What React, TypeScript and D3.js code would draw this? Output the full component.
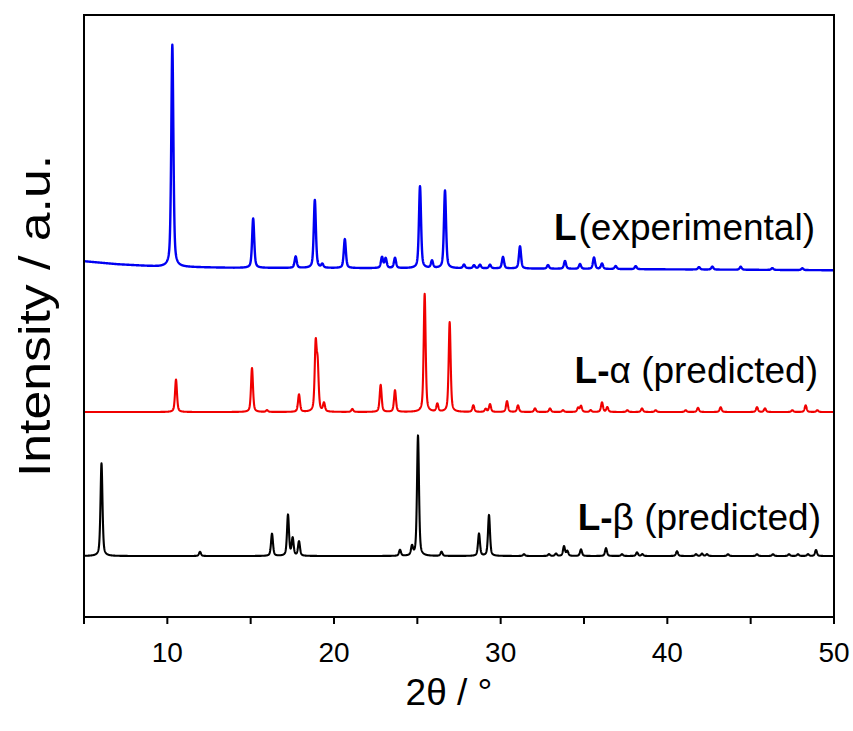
import React from "react";
import * as d3 from "d3";

const WIDTH = 853;
const HEIGHT = 731;
const PLOT = { left: 84, right: 834, top: 15, bottom: 617 };

// 2θ axis
const X_DOMAIN: [number, number] = [5, 50];
const X_TICKS = [5, 10, 15, 20, 25, 30, 35, 40, 45, 50];
const X_TICK_LABELS = [10, 20, 30, 40, 50];

// Experimental pattern of L: peak positions (2θ) and heights (a.u.)
const expTheta = [
  10.3, 15.15, 17.7, 18.85, 19.3, 20.65, 22.88, 23.1, 23.66, 25.16, 25.88, 26.66,
  27.8, 28.4, 28.76, 29.36, 30.14, 31.16, 32.84, 33.86, 34.76, 35.6, 36.08, 36.9,
  38.1, 41.9, 42.7, 44.4, 46.3, 48.1,
];
const expIntensity = [
  36.9, 8.2, 1.9, 11.3, 0.6, 4.8, 1.8, 1.6, 1.7, 13.6, 1.2, 12.9,
  0.6, 0.5, 0.6, 0.6, 1.9, 3.7, 0.6, 1.3, 0.8, 1.9, 0.9, 0.5,
  0.5, 0.4, 0.5, 0.5, 0.3, 0.3,
];
// slowly varying background under the experimental trace
const expBackgroundTheta = [5, 7, 9.5, 14, 30, 50];
const expBackgroundLevel = [59.1, 58.6, 58.2, 58.0, 57.9, 57.6];

// Predicted pattern of L-α
const alphaTheta = [
  10.52, 15.08, 15.98, 17.9, 18.9, 19.02, 19.4, 21.1, 22.8, 23.66, 25.44, 26.2,
  26.94, 28.36, 29.1, 29.36, 30.38, 31.04, 32.06, 32.96, 33.74, 34.65, 34.82, 35.4,
  36.08, 36.4, 37.6, 38.48, 39.3, 41.1, 41.84, 43.2, 45.38, 45.86, 47.5, 48.3, 49.0,
];
const alphaIntensity = [
  5.4, 7.3, 0.3, 2.9, 10.8, 7.1, 1.4, 0.5, 4.5, 3.6, 19.6, 1.3,
  14.9, 1.1, 0.5, 1.3, 1.8, 1.1, 0.6, 0.6, 0.3, 0.7, 1.0, 0.3,
  1.6, 0.8, 0.3, 0.6, 0.3, 0.3, 0.7, 0.8, 0.8, 0.6, 0.3, 1.1, 0.3,
];
const alphaOffset = 34.05;

// Predicted pattern of L-β
const betaTheta = [
  6.05, 11.96, 16.28, 17.24, 17.52, 17.9, 23.96, 24.68, 25.04, 26.45, 28.7, 29.3,
  31.4, 32.9, 33.32, 33.8, 34.0, 34.82, 36.32, 37.28, 38.18, 38.5, 40.58, 41.72,
  42.08, 42.38, 43.64, 45.38, 46.34, 47.3, 47.84, 48.44, 48.92,
];
const betaIntensity = [
  15.4, 0.7, 3.7, 6.8, 2.9, 2.4, 1.0, 1.5, 20.0, 0.7, 3.7, 6.8,
  0.3, 0.3, 0.4, 1.6, 0.8, 1.1, 1.3, 0.3, 0.6, 0.3, 0.8, 0.3,
  0.4, 0.3, 0.3, 0.3, 0.3, 0.3, 0.3, 0.3, 1.0,
];
const betaOffset = 10.13;

const SERIES = [
  { name: "L (experimental)", theta: expTheta, intensity: expIntensity, fwhm: 0.15, color: "#0000f2", width: 2.4 },
  { name: "L-α (predicted)", theta: alphaTheta, intensity: alphaIntensity, fwhm: 0.14, color: "#f00000", width: 2.1 },
  { name: "L-β (predicted)", theta: betaTheta, intensity: betaIntensity, fwhm: 0.14, color: "#000000", width: 2.1 },
];

const FONT = "'Liberation Sans', Arial, Helvetica, sans-serif";

// pseudo-Voigt line shape
function profile(x: number, x0: number, h: number, fwhm: number, eta = 0.5) {
  const u = (x - x0) / fwhm;
  return h * (eta / (1 + 4 * u * u) + (1 - eta) * Math.exp(-4 * Math.LN2 * u * u));
}

export default function App() {
  const x = d3.scaleLinear().domain(X_DOMAIN).range([PLOT.left, PLOT.right]);
  const y = d3.scaleLinear().domain([0, 100]).range([PLOT.bottom, PLOT.top]);
  const background = d3.scaleLinear().domain(expBackgroundTheta).range(expBackgroundLevel);
  const grid = d3.range(X_DOMAIN[0], X_DOMAIN[1] + 1e-9, 0.01);

  const baselines = [
    (t: number) => background(t),
    () => alphaOffset,
    () => betaOffset,
  ];

  const line = d3
    .line<[number, number]>()
    .x((d) => x(d[0]))
    .y((d) => y(d[1]));

  const paths = SERIES.map((s, i) => {
    const pts: [number, number][] = grid.map((t) => {
      let v = baselines[i](t);
      for (let k = 0; k < s.theta.length; k++) {
        if (Math.abs(t - s.theta[k]) < 6) v += profile(t, s.theta[k], s.intensity[k], s.fwhm);
      }
      return [t, v];
    });
    return line(pts) || "";
  });

  return (
    <svg
      width={WIDTH}
      height={HEIGHT}
      style={{ position: "absolute", left: 0, top: 0, background: "#fff" }}
      fontFamily={FONT}
    >
      <defs>
        <clipPath id="plot-clip">
          <rect x={PLOT.left} y={PLOT.top} width={PLOT.right - PLOT.left} height={PLOT.bottom - PLOT.top} />
        </clipPath>
      </defs>

      <g clipPath="url(#plot-clip)">
        {SERIES.map((s, i) => (
          <path
            key={s.name}
            d={paths[i]}
            fill="none"
            stroke={s.color}
            strokeWidth={s.width}
            strokeLinejoin="round"
          />
        ))}
      </g>

      {/* frame */}
      <rect
        x={PLOT.left}
        y={PLOT.top}
        width={PLOT.right - PLOT.left}
        height={PLOT.bottom - PLOT.top}
        fill="none"
        stroke="#000"
        strokeWidth={2}
      />

      {/* bottom ticks */}
      {X_TICKS.map((t) => (
        <line key={t} x1={x(t)} x2={x(t)} y1={PLOT.bottom} y2={PLOT.bottom + 7} stroke="#000" strokeWidth={2} />
      ))}
      {X_TICK_LABELS.map((t) => (
        <text key={t} x={x(t)} y={662} textAnchor="middle" fontSize={28} fill="#000">
          {t}
        </text>
      ))}

      {/* axis titles */}
      <text x={449} y={705} textAnchor="middle" fontSize={37} fill="#000">
        2θ / °
      </text>
      <text
        transform={`translate(50, ${(PLOT.top + PLOT.bottom) / 2}) rotate(-90) scale(1.15, 1)`}
        textAnchor="middle"
        fontSize={45}
        fill="#000"
      >
        Intensity / a.u.
      </text>

      {/* pattern labels */}
      <text x={815} y={240} textAnchor="end" fontSize={37} fill="#000">
        <tspan fontWeight="bold">L</tspan>
        <tspan dx={2}>(experimental)</tspan>
      </text>
      <text x={818} y={383} textAnchor="end" fontSize={37} fill="#000">
        <tspan fontWeight="bold">L-</tspan>
        <tspan>α (predicted)</tspan>
      </text>
      <text x={821} y={530} textAnchor="end" fontSize={37} fill="#000">
        <tspan fontWeight="bold">L-</tspan>
        <tspan>β (predicted)</tspan>
      </text>
    </svg>
  );
}
